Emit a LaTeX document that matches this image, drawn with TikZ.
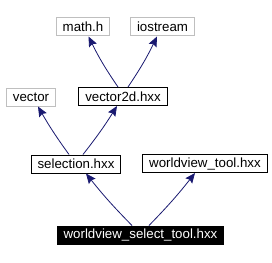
\documentclass[tikz,border=0pt]{standalone}
\usepackage{fontspec}
\setmainfont{Liberation Sans}
\usetikzlibrary{arrows.meta}
\definecolor{edgeblue}{HTML}{191970}
\definecolor{extgray}{HTML}{BFBFBF}
\tikzset{
  filebox/.style={draw=black, line width=1pt, inner xsep=6.5pt, inner ysep=1pt,
    minimum height=18pt, font=\fontsize{13.3}{15}\selectfont},
  extbox/.style={filebox, draw=extgray},
  mainbox/.style={filebox, fill=black, text=white},
  incl/.style={draw=edgeblue, line width=0.8pt,
    -{Stealth[length=10pt, width=8.5pt, inset=1.5pt]}}
}
\begin{document}
\begin{tikzpicture}[x=1pt, y=-1pt]
  \useasboundingbox (0,0) rectangle (272,262);
  % files
  \node[extbox] (math) at (83,27) {math.h};
  \node[extbox] (iostream) at (162.5,27) {iostream};
  \node[extbox] (vector) at (31,97) {vector};
  \node[filebox] (vec2d) at (123,96.5) {vector2d.hxx};
  \node[filebox] (selection) at (76,164) {selection.hxx};
  \node[filebox] (wvtool) at (205,163.5) {worldview\_tool.hxx};
  \node[mainbox] (wvselect) at (140.5,235) {worldview\_select\_tool.hxx};
  % includes
  \draw[incl] ([xshift=-5pt]vec2d.north) to[bend left=4] ([xshift=5.5pt]math.south);
  \draw[incl] ([xshift=5pt]vec2d.north) to[bend right=4] ([xshift=-5.5pt]iostream.south);
  \draw[incl] ([xshift=-7pt]selection.north) to[bend left=3] ([xshift=7pt]vector.south);
  \draw[incl] ([xshift=7pt]selection.north) to[bend right=3] ([xshift=-6pt]vec2d.south);
  \draw[incl] ([xshift=-8.5pt]wvselect.north) to[bend left=3] ([xshift=10pt]selection.south);
  \draw[incl] ([xshift=8.5pt]wvselect.north) to[bend right=3] ([xshift=-10pt]wvtool.south);
\end{tikzpicture}
\end{document}
